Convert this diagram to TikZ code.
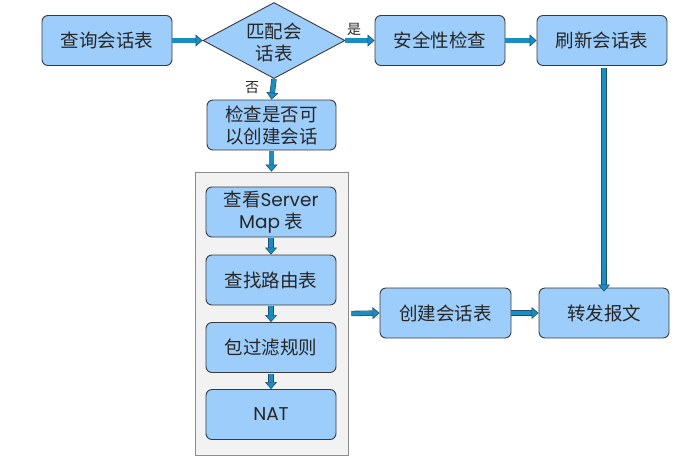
\documentclass[tikz,border=0pt]{standalone}
\usepackage{fontspec}
\setmainfont{Noto Sans CJK SC}
\newfontfamily\lat{Poppins}
\usetikzlibrary{arrows.meta,shapes.geometric}
\definecolor{boxfill}{HTML}{9DCDFB}
\definecolor{boxline}{HTML}{3A3A3A}
\definecolor{txt}{HTML}{262626}
\definecolor{arrfill}{HTML}{1A8DC2}
\definecolor{arrline}{HTML}{1F4E6E}
\definecolor{grayfill}{HTML}{F2F2F2}
\definecolor{grayline}{HTML}{8C8C8C}
\tikzset{
  stepbox/.style={draw=boxline, line width=0.9pt, fill=boxfill, rounded corners=6pt,
    minimum width=130pt, minimum height=50pt, inner sep=0pt, align=center,
    text=txt, font=\fontsize{18.5}{22}\selectfont},
  decbox/.style={diamond, draw=boxline, line width=0.9pt, fill=boxfill,
    minimum width=142pt, minimum height=76pt, inner sep=0pt},
  dectext/.style={align=center, text=txt, font=\fontsize{18.5}{22}\selectfont, inner sep=0pt},
  groupbox/.style={draw=grayline, line width=0.8pt, fill=grayfill,
    minimum width=153pt, minimum height=283pt, inner sep=0pt},
  fat/.style={draw=arrline, line width=0.6pt, double=arrfill, double distance=4.2pt,
    -{Triangle[length=7pt, width=12pt, fill=arrfill, line width=0.6pt]}},
  yn/.style={text=txt, font=\fontsize{14}{16}\selectfont, inner sep=0pt}
}
\begin{document}
\begin{tikzpicture}[x=1pt, y=-1pt]
\useasboundingbox (0,0) rectangle (692,459);
\node[stepbox] (query) at (107,40.5) {查询会话表};
\node[decbox] (match) at (274,40.5) {};
\node[dectext] at (274,42) {匹配会\\话表};
\node[stepbox] (sec) at (440,40.5) {安全性检查};
\node[stepbox] (refresh) at (602,40.5) {刷新会话表};
\node[stepbox, minimum width=129pt] (check) at (271.5,125) {检查是否可\\以创建会话};
\node[groupbox] (group) at (271.5,313.5) {};
\node[stepbox] (sm) at (271,212) {查看{\lat Server}\\{\lat Map} 表};
\node[stepbox] (route) at (271,280) {查找路由表};
\node[stepbox] (filter) at (271,347.5) {包过滤规则};
\node[stepbox] (nat) at (271,414.5) {{\lat NAT}};
\node[stepbox, minimum width=131pt] (create) at (445.5,313) {创建会话表};
\node[stepbox] (fwd) at (604,313) {转发报文};
\node[yn] (yes) at (354,29) {是};
\node[yn] (no) at (252,88) {否};
\draw[fat] (query.east) -- (match.west);
\draw[fat] (match.east) -- (sec.west);
\draw[fat] (sec.east) -- (refresh.west);
\draw[fat] (match.south) -- (check.north);
\draw[fat] ([yshift=-1pt]check.south) -- (group.north);
\draw[fat] ([yshift=-1pt]sm.south) -- (route.north);
\draw[fat] ([yshift=-1pt]route.south) -- (filter.north);
\draw[fat] ([yshift=-1pt]filter.south) -- (nat.north);
\draw[fat] ([xshift=3pt]group.east) -- (create.west);
\draw[fat] (create.east) -- (fwd.west);
\draw[fat] ([yshift=-2pt]fwd.north |- refresh.south) -- ([yshift=-4pt]fwd.north);
\end{tikzpicture}
\end{document}
